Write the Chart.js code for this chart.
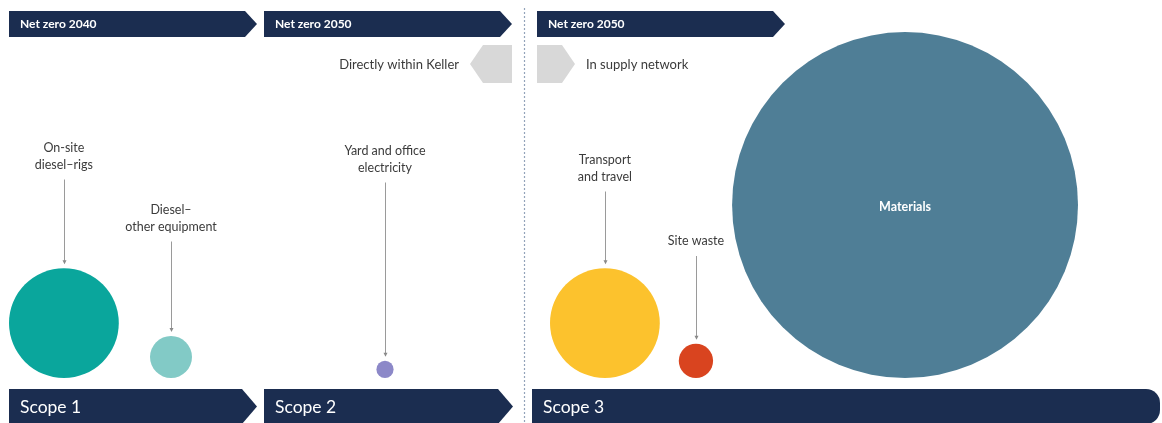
<!DOCTYPE html>
<html><head><meta charset="utf-8">
<script src="https://cdn.jsdelivr.net/npm/chart.js@4.4.1/dist/chart.umd.min.js"></script>
<style>html,body{margin:0;padding:0;background:#fff}#wrap{width:1162px;height:423px;position:relative}</style>
</head><body><div id="wrap"><canvas id="c"></canvas></div>
<script>
// ---- data ----
const categories = ["On-site diesel–rigs", "Diesel–other equipment", "Yard and office electricity", "Transport and travel", "Site waste", "Materials"];
const labelLines = [["On-site", "diesel–rigs"], ["Diesel–", "other equipment"], ["Yard and office", "electricity"], ["Transport", "and travel"], ["Site waste"], ["Materials"]];
const scopeOf = [1, 1, 2, 3, 3, 3];
const emissionsShare = [8.2, 1.2, 0.2, 8.2, 0.8, 81.4]; // % of total footprint
const scopeLabels = ["Scope 1", "Scope 2", "Scope 3"];
const targetLabels = ["Net zero 2040", "Net zero 2050", "Net zero 2050"];
const boundaryLabels = ["Directly within Keller", "In supply network"];

// ---- layout / style (not data) ----
const colors = ["#0aa69c", "#82cac6", "#8c88c8", "#fcc22d", "#d9441f", "#4f7e96"];
const W = 1162, H = 423;
const baseline = 378;
const rScale = 19.17;               // px of radius per sqrt(%)
const sections = {1: [9, 192], 2: [260, 510], 3: [550, 1078]};
const labelFirstLineY = [148, 210, 151, 160, 241, null];
const navy = "#1b2d50";
const FONT = "Lato, 'Open Sans', sans-serif";

const radii = emissionsShare.map(v => rScale * Math.sqrt(v));
// place bubbles inside each scope section (space-between), bottom aligned
const xs = new Array(categories.length);
[1, 2, 3].forEach(s => {
  const idx = scopeOf.map((sc, i) => sc === s ? i : -1).filter(i => i >= 0);
  const [a, b] = sections[s];
  if (idx.length === 1) { xs[idx[0]] = (a + b) / 2; return; }
  const total = idx.reduce((t, i) => t + 2 * radii[i], 0);
  const gap = (b - a - total) / (idx.length - 1);
  let cur = a;
  idx.forEach(i => { xs[i] = cur + radii[i]; cur += 2 * radii[i] + gap; });
});

const points = categories.map((c, i) => ({x: xs[i], y: baseline - radii[i], r: radii[i]}));

function banner(ctx, x0, y0, x1, y1, tip, rounded) {
  ctx.beginPath();
  ctx.moveTo(x0, y0);
  ctx.lineTo(x1, y0);
  if (rounded) {
    ctx.arcTo(x1 + tip, y0, x1 + tip, (y0 + y1) / 2, tip);
    ctx.arcTo(x1 + tip, y1, x1, y1, tip);
  } else {
    ctx.lineTo(x1 + tip, (y0 + y1) / 2);
  }
  ctx.lineTo(x1, y1);
  ctx.lineTo(x0, y1);
  ctx.closePath();
  ctx.fill();
}

const decor = {
  id: 'decor',
  beforeDatasetsDraw(chart) {
    const ctx = chart.ctx;
    ctx.save();
    // top banners
    ctx.fillStyle = navy;
    const tops = [[9, 245, 12], [264, 500, 12], [537, 773, 12]];
    tops.forEach((t, i) => {
      banner(ctx, t[0], 11, t[1], 37, t[2], false);
    });
    ctx.fillStyle = "#ffffff";
    ctx.font = "bold 12px " + FONT;
    ctx.textBaseline = "middle";
    ctx.textAlign = "left";
    tops.forEach((t, i) => ctx.fillText(targetLabels[i], t[0] + 11, 24.5));
    // bottom banners
    ctx.fillStyle = navy;
    const bots = [[9, 242, 15, false], [264, 498, 15, false], [532, 1146, 14, true]];
    bots.forEach(b => banner(ctx, b[0], 389, b[1], 424, b[2], b[3]));
    ctx.fillStyle = "#ffffff";
    ctx.font = "17.5px " + FONT;
    bots.forEach((b, i) => ctx.fillText(scopeLabels[i], b[0] + 11, 407));
    // dotted divider
    ctx.strokeStyle = "#93a3ba";
    ctx.lineWidth = 1.2;
    ctx.setLineDash([2, 2]);
    ctx.beginPath();
    ctx.moveTo(524.5, 8);
    ctx.lineTo(524.5, 423);
    ctx.stroke();
    ctx.setLineDash([]);
    // gray boundary arrows
    ctx.fillStyle = "#d8d8d8";
    ctx.beginPath();
    ctx.moveTo(470, 64); ctx.lineTo(483, 45); ctx.lineTo(512, 45);
    ctx.lineTo(512, 83); ctx.lineTo(483, 83); ctx.closePath(); ctx.fill();
    ctx.beginPath();
    ctx.moveTo(537, 45); ctx.lineTo(562, 45); ctx.lineTo(575, 64);
    ctx.lineTo(562, 83); ctx.lineTo(537, 83); ctx.closePath(); ctx.fill();
    ctx.fillStyle = "#3b3b3b";
    ctx.font = "13px " + FONT;
    ctx.textAlign = "right";
    ctx.fillText(boundaryLabels[0], 459, 65);
    ctx.textAlign = "left";
    ctx.fillText(boundaryLabels[1], 586, 65);
    ctx.restore();
  },
  afterDatasetsDraw(chart) {
    const ctx = chart.ctx;
    const meta = chart.getDatasetMeta(0);
    ctx.save();
    ctx.textAlign = "center";
    ctx.textBaseline = "middle";
    meta.data.forEach((el, i) => {
      const lines = labelLines[i];
      const r = radii[i];
      if (labelFirstLineY[i] === null) {
        ctx.fillStyle = "#ffffff";
        ctx.font = "bold 12.5px " + FONT;
        ctx.fillText(lines.join(" "), el.x, el.y + 2);
        return;
      }
      ctx.fillStyle = "#3b3b3b";
      ctx.font = "12.5px " + FONT;
      lines.forEach((ln, k) => ctx.fillText(ln, el.x, labelFirstLineY[i] + k * 16.5));
      const lastY = labelFirstLineY[i] + (lines.length - 1) * 16.5;
      const y0 = lastY + 15, y1 = el.y - r - 5;
      const lx = Math.round(el.x) + 0.5;
      ctx.strokeStyle = "#9a9a9a";
      ctx.lineWidth = 1;
      ctx.beginPath();
      ctx.moveTo(lx, y0);
      ctx.lineTo(lx, y1);
      ctx.stroke();
      ctx.fillStyle = "#8a8a8a";
      ctx.beginPath();
      ctx.moveTo(lx - 2, y1 - 3);
      ctx.lineTo(lx + 2, y1 - 3);
      ctx.lineTo(lx, y1 + 1);
      ctx.closePath();
      ctx.fill();
    });
    ctx.restore();
  }
};

new Chart(document.getElementById('c'), {
  type: 'bubble',
  data: {
    datasets: [{
      label: 'Emissions',
      data: points,
      backgroundColor: colors,
      borderWidth: 0,
      hoverBorderWidth: 0,
      clip: false
    }]
  },
  options: {
    responsive: true,
    maintainAspectRatio: false,
    animation: false,
    events: [],
    layout: {padding: 0, autoPadding: false},
    plugins: {legend: {display: false}, tooltip: {enabled: false}},
    scales: {
      x: {type: 'linear', min: 0, max: W, display: false},
      y: {type: 'linear', min: 0, max: H, reverse: true, display: false}
    }
  },
  plugins: [decor]
});
</script>
</body></html>
